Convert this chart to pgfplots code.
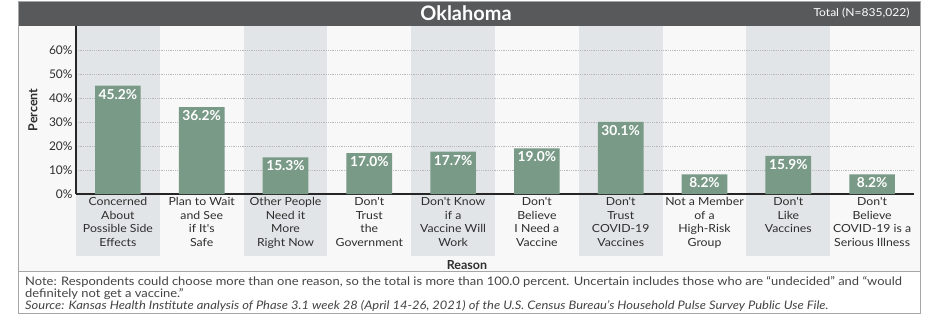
\documentclass[border=0pt]{standalone}
\usepackage{pgfplots}
\pgfplotsset{compat=1.18}
\usetikzlibrary{backgrounds}
\usepackage{fontspec}
\setmainfont{Lato}
\newfontfamily\wide{Lato}[FakeStretch=1.1]
\definecolor{barc}{HTML}{7A9A88}
\definecolor{bandc}{HTML}{E2E5E7}
\definecolor{bgc}{HTML}{F8F8F8}
\definecolor{titlec}{HTML}{58595B}
\definecolor{txt}{HTML}{2E2E2E}
\definecolor{notec}{HTML}{444444}
\begin{document}
\begin{tikzpicture}[x=1bp,y=1bp]
\begin{axis}[scale only axis,
  width=838bp, height=168bp,
  xmin=-0.5, xmax=9.5, ymin=0, ymax=70,
  axis x line*=bottom, axis y line*=left,
  axis line style={-, line width=1.3bp, color=black!85},
  major tick length=0, tick style={draw=none},
  ymajorgrids, grid style={gray!55, line width=0.6bp, dash pattern=on 0.6bp off 1.2bp},
  ytick={0,10,20,30,40,50,60},
  yticklabels={0\%,10\%,20\%,30\%,40\%,50\%,60\%},
  yticklabel style={font=\fontsize{12}{14}\selectfont, text=txt},
  xtick={0,...,9},
  xticklabels={{Concerned\\About\\Possible Side\\Effects},
    {Plan to Wait\\and See\\if It's\\Safe},
    {Other People\\Need it\\More\\Right Now},
    {Don't\\Trust\\the\\Government},
    {Don't Know\\if a\\Vaccine Will\\Work},
    {Don't\\Believe\\I Need a\\Vaccine},
    {Don't\\Trust\\COVID-19\\Vaccines},
    {Not a Member\\of a\\High-Risk\\Group},
    {Don't\\Like\\Vaccines},
    {Don't\\Believe\\COVID-19 is a\\Serious Illness}},
  xticklabel style={align=center, font=\wide\fontsize{11.2}{13.6}\selectfont, text=txt},
  /pgf/number format/assume math mode=true,
  clip=false]
\coordinate (O) at (axis cs:-0.5,0);
\addplot[ybar, bar width=0.545, fill=barc, draw=none,
  point meta=y,
  nodes near coords={\pgfmathprintnumber[fixed,fixed zerofill,precision=1]{\pgfplotspointmeta}\%},
  every node near coord/.append style={anchor=north, text=white, font=\fontsize{13.8}{16}\selectfont\bfseries}]
coordinates {(0,45.2) (1,36.2) (2,15.3) (3,17.0) (4,17.7) (5,19.0) (6,30.1) (7,8.2) (8,15.9) (9,8.2)};
\end{axis}
\begin{scope}[shift={(O)}, xshift=-76bp, yshift=-129bp]
\path (0,0) rectangle (932,323);
\begin{scope}[on background layer]
\fill[bgc] (19,52) rectangle (920,297);
\fill[white] (19,10) rectangle (920,52);
\foreach \i in {0,2,4,6,8} \fill[bandc] ({76+\i*83.8},67) rectangle ({76+(\i+1)*83.8},297);
\end{scope}
\fill[titlec] (19,297) rectangle (920,322);
\draw[gray!70, line width=1bp] (19,10) rectangle (920,322);
\draw[gray!70, line width=0.8bp] (19,52) -- (920,52);
\node[white, font=\fontsize{20}{23}\selectfont\bfseries] at (466,309.5) {Oklahoma};
\node[white, anchor=east, font=\wide\fontsize{11}{12}\selectfont] at (913,309.5) {Total (N=835,022)};
\node[rotate=90, font=\fontsize{12.5}{14}\selectfont\bfseries, text=txt] at (33,213) {Percent};
\node[font=\fontsize{12.5}{14}\selectfont\bfseries, text=txt] at (467,58) {Reason};
\node[anchor=base west, inner sep=0, font=\wide\fontsize{11.8}{12}\selectfont, text=notec] at (25,37.5) {Note: Respondents could choose more than one reason, so the total is more than 100.0 percent. Uncertain includes those who are “undecided” and “would};
\node[anchor=base west, inner sep=0, font=\wide\fontsize{11.8}{12}\selectfont, text=notec] at (25,25.5) {definitely not get a vaccine.”};
\node[anchor=base west, inner sep=0, font=\wide\fontsize{11.8}{12}\selectfont\itshape, text=notec] at (25,13.5) {Source: Kansas Health Institute analysis of Phase 3.1 week 28 (April 14-26, 2021) of the U.S. Census Bureau’s Household Pulse Survey Public Use File.};
\end{scope}
\end{tikzpicture}
\end{document}
